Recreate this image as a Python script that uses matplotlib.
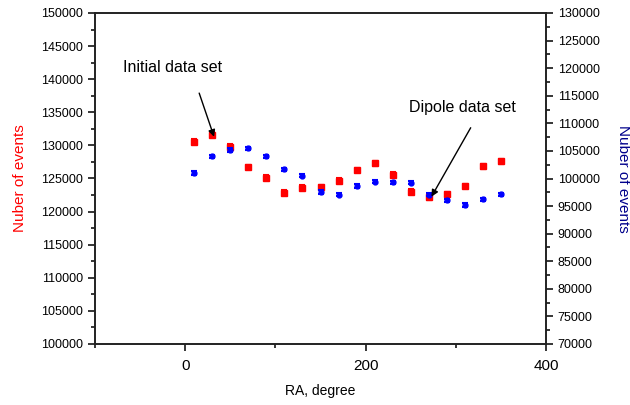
import matplotlib
matplotlib.use("Agg")
import matplotlib.pyplot as plt
from matplotlib.ticker import MultipleLocator

plt.rcParams["font.family"] = ["Liberation Sans", "DejaVu Sans"]

# RA bins, degree
ra = [10, 30, 50, 70, 90, 110, 130, 150, 170, 190, 210, 230, 250, 270, 290, 310, 330, 350]

# Initial data set (left axis)
initial = [130560, 131620, 129800, 126740, 125120, 122860, 123610, 123670, 124670,
           126280, 127290, 125580, 123010, 122150, 122660, 123870, 126840, 127590]
initial_err = [350] * 18

# Dipole data set (right axis)
dipole = [101000, 104020, 105170, 105470, 104020, 101670, 100510, 97560, 97070,
          98640, 99430, 99310, 99250, 97070, 96050, 95200, 96230, 97140]
dipole_err = [300] * 18

fig = plt.figure(figsize=(6.3, 4.05), dpi=100)
ax = fig.add_axes([95 / 630, 1 - 344 / 405, 451 / 630, 331 / 405])
ax2 = ax.twinx()

ax.errorbar(ra, initial, yerr=initial_err, fmt="s", color="red", ms=4,
            capsize=2.5, elinewidth=1.5, capthick=1.5)
ax2.errorbar(ra, dipole, yerr=dipole_err, fmt="o", color="blue", ms=3.5,
             capsize=2.5, elinewidth=1.5, capthick=1.5)

ax.set_xlim(-100, 400)
ax.set_ylim(100000, 150000)
ax2.set_ylim(70000, 130000)

ax.xaxis.set_major_locator(MultipleLocator(200))
ax.xaxis.set_minor_locator(MultipleLocator(100))
ax.yaxis.set_major_locator(MultipleLocator(5000))
ax.yaxis.set_minor_locator(MultipleLocator(2500))
ax2.yaxis.set_major_locator(MultipleLocator(5000))
ax2.yaxis.set_minor_locator(MultipleLocator(2500))

for a in (ax, ax2):
    for s in a.spines.values():
        s.set_linewidth(1.2)
        s.set_color("#222222")
ax.tick_params(axis="both", which="major", direction="out", length=5, width=1.1)
ax.tick_params(axis="both", which="minor", direction="out", length=3, width=1.1)
ax.tick_params(axis="x", labelsize=11, pad=6)
ax.tick_params(axis="y", labelsize=9)
ax2.tick_params(axis="y", which="major", direction="out", length=5, width=1.1, labelsize=9)
ax2.tick_params(axis="y", which="minor", direction="out", length=3, width=1.1)

ax.set_xlabel("RA, degree", fontsize=10, labelpad=8)
ax.set_ylabel("Nuber of events", color="red", fontsize=11, labelpad=10)
ax2.set_ylabel("Nuber of events", color="#00008b", fontsize=11, rotation=270, labelpad=22)

arrow = dict(arrowstyle="-|>", color="black", lw=1, shrinkA=0, shrinkB=0, mutation_scale=10)

ax.text(-14, 141800, "Initial data set", fontsize=11.5, ha="center", va="center")
ax.annotate("", xy=(32, 131300), xytext=(15.5, 137900), arrowprops=arrow)

ax2.text(307, 112800, "Dipole data set", fontsize=11.5, ha="center", va="center")
ax2.annotate("", xy=(273, 96700), xytext=(316.5, 109200), arrowprops=arrow)

fig.savefig("out.png", dpi=100)
